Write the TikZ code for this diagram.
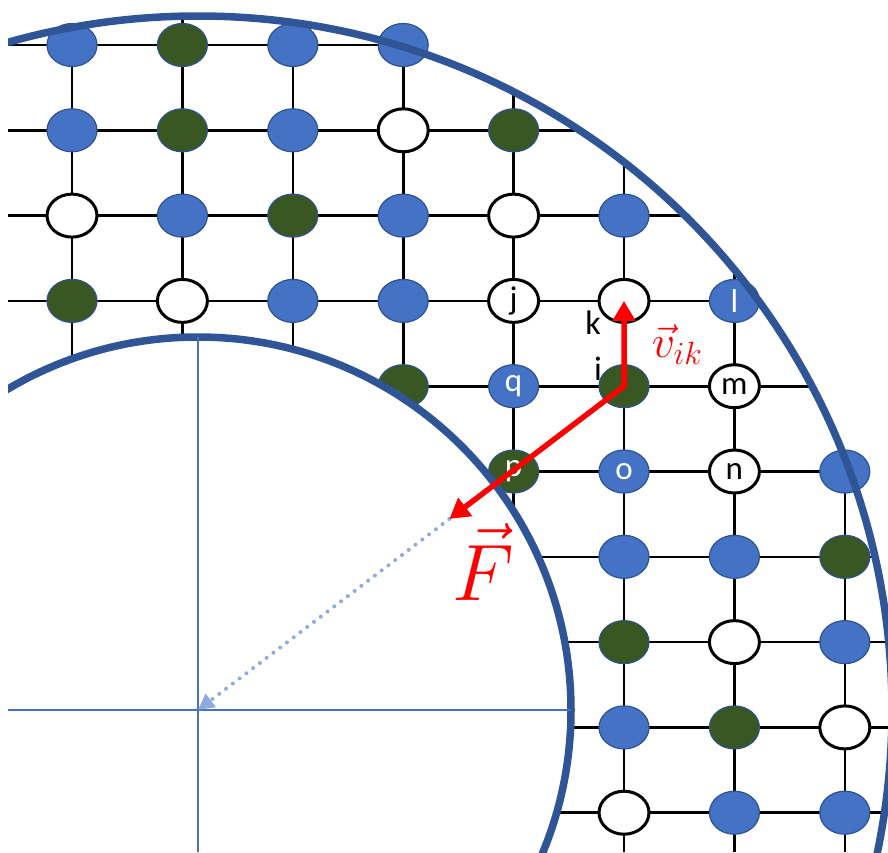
\documentclass[tikz,border=0pt]{standalone}
\usepackage{fix-cm}
\usepackage{fontspec}
\setmainfont{Carlito}
\usetikzlibrary{positioning,arrows.meta,calc,shapes.geometric}
\definecolor{ringBlue}{HTML}{2F5597}
\definecolor{siteBlue}{HTML}{4472C4}
\definecolor{siteEdge}{HTML}{2F528F}
\definecolor{siteGreen}{HTML}{385723}
\definecolor{axisBlue}{HTML}{4472C4}
\definecolor{guideBlue}{HTML}{8FAADC}
\definecolor{vecRed}{HTML}{FF0000}

\begin{document}
\begin{tikzpicture}[x=1pt,y=-1pt,
    site/.style={ellipse,minimum width=50pt,minimum height=43pt,inner sep=0pt,
                 font=\fontsize{33}{33}\selectfont},
    siteB/.style={site,fill=siteBlue,draw=siteEdge,line width=1.2pt,text=white},
    siteG/.style={site,fill=siteGreen,draw=siteEdge,line width=1.2pt,text=white},
    siteW/.style={site,fill=white,draw=black,line width=3pt,text=black},
    bond/.style={draw=black,line width=2.6pt},
    ring/.style={draw=ringBlue,line width=7.5pt},
    axis/.style={draw=axisBlue,line width=1.3pt},
    guide/.style={draw=guideBlue,line width=4pt,line cap=round,dash pattern=on 0pt off 8.5pt,
                  -{Triangle[length=16pt,width=16pt]}},
    vec/.style={draw=vecRed,line width=5.5pt,
                {Triangle[length=20pt,width=22pt]}-{Triangle[length=20pt,width=22pt]}},
    lbl/.style={font=\fontsize{34}{34}\selectfont,inner sep=0pt}]
  \useasboundingbox (0,0) rectangle (888,852);
  \coordinate (O) at (198,710);

  \begin{scope}
    \clip (8,0) rectangle (888,852);
    % lattice bonds, cut at the outer ring
    \begin{scope}
      \clip (O) circle[radius=694];
      \foreach \r in {0,...,9}
        \draw[bond] (8,45+85.3*\r) -- (888,45+85.3*\r);
      \foreach \c in {0,...,7}
        \draw[bond] (72+110.4*\c,0) -- (72+110.4*\c,852);
    \end{scope}

    % lattice sites
    \foreach \c/\r/\kind in {0/0/B,1/0/G,2/0/B,3/0/B,
        0/1/B,1/1/G,2/1/B,3/1/W,4/1/G,
        0/2/W,1/2/B,2/2/G,3/2/B,4/2/W,5/2/B,
        0/3/G,1/3/W,2/3/B,3/3/B,
        3/4/G,7/5/B,
        5/6/B,6/6/B,7/6/G,
        5/7/G,6/7/W,7/7/B,
        5/8/B,6/8/G,7/8/W,
        5/9/W,6/9/B,7/9/B}
      \node[site\kind] (s\c\r) at (72+110.4*\c,45+85.3*\r) {};
    \node[siteW] (j) at (72+110.4*4,45+85.3*3) {j};
    \node[siteW] (k) at (72+110.4*5,45+85.3*3) {};
    \node[siteB] (l) at (72+110.4*6,45+85.3*3) {l};
    \node[siteB] (q) at (72+110.4*4,45+85.3*4) {q};
    \node[siteG] (i) at (72+110.4*5,45+85.3*4) {};
    \node[siteW] (m) at (72+110.4*6,45+85.3*4) {m};
    \node[siteG] (p) at (72+110.4*4,45+85.3*5) {p};
    \node[siteB] (o) at (72+110.4*5,45+85.3*5) {o};
    \node[siteW] (n) at (72+110.4*6,45+85.3*5) {n};

    % core and outer ring
    \draw[ring,fill=white] (O) circle[radius=373];
    \draw[ring] (O) circle[radius=694];

    % axes of the core
    \draw[axis] (8,710) -- ($(O)+(373,0)$);
    \draw[axis] ($(O)+(0,-373)$) -- (198,852);
  \end{scope}

  % force towards the centre
  \coordinate (Ftip) at ($(i.center)!0.41!(O)$);
  \draw[guide] (Ftip) -- (O);
  \draw[vec] (k.center) -- (i.center) -- (Ftip);

  \node[lbl] (klab) at (593,323) {k};
  \node[lbl] (ilab) at (598,369) {i};
  \node[inner sep=0pt,text=vecRed,font=\fontsize{46}{46}\selectfont] (vlab) at (677,345) {$\vec{v}_{ik}$};
  \node[inner sep=0pt,text=vecRed,font=\fontsize{80}{80}\selectfont] (flab) at (483,562) {$\vec{F}$};
\end{tikzpicture}
\end{document}
